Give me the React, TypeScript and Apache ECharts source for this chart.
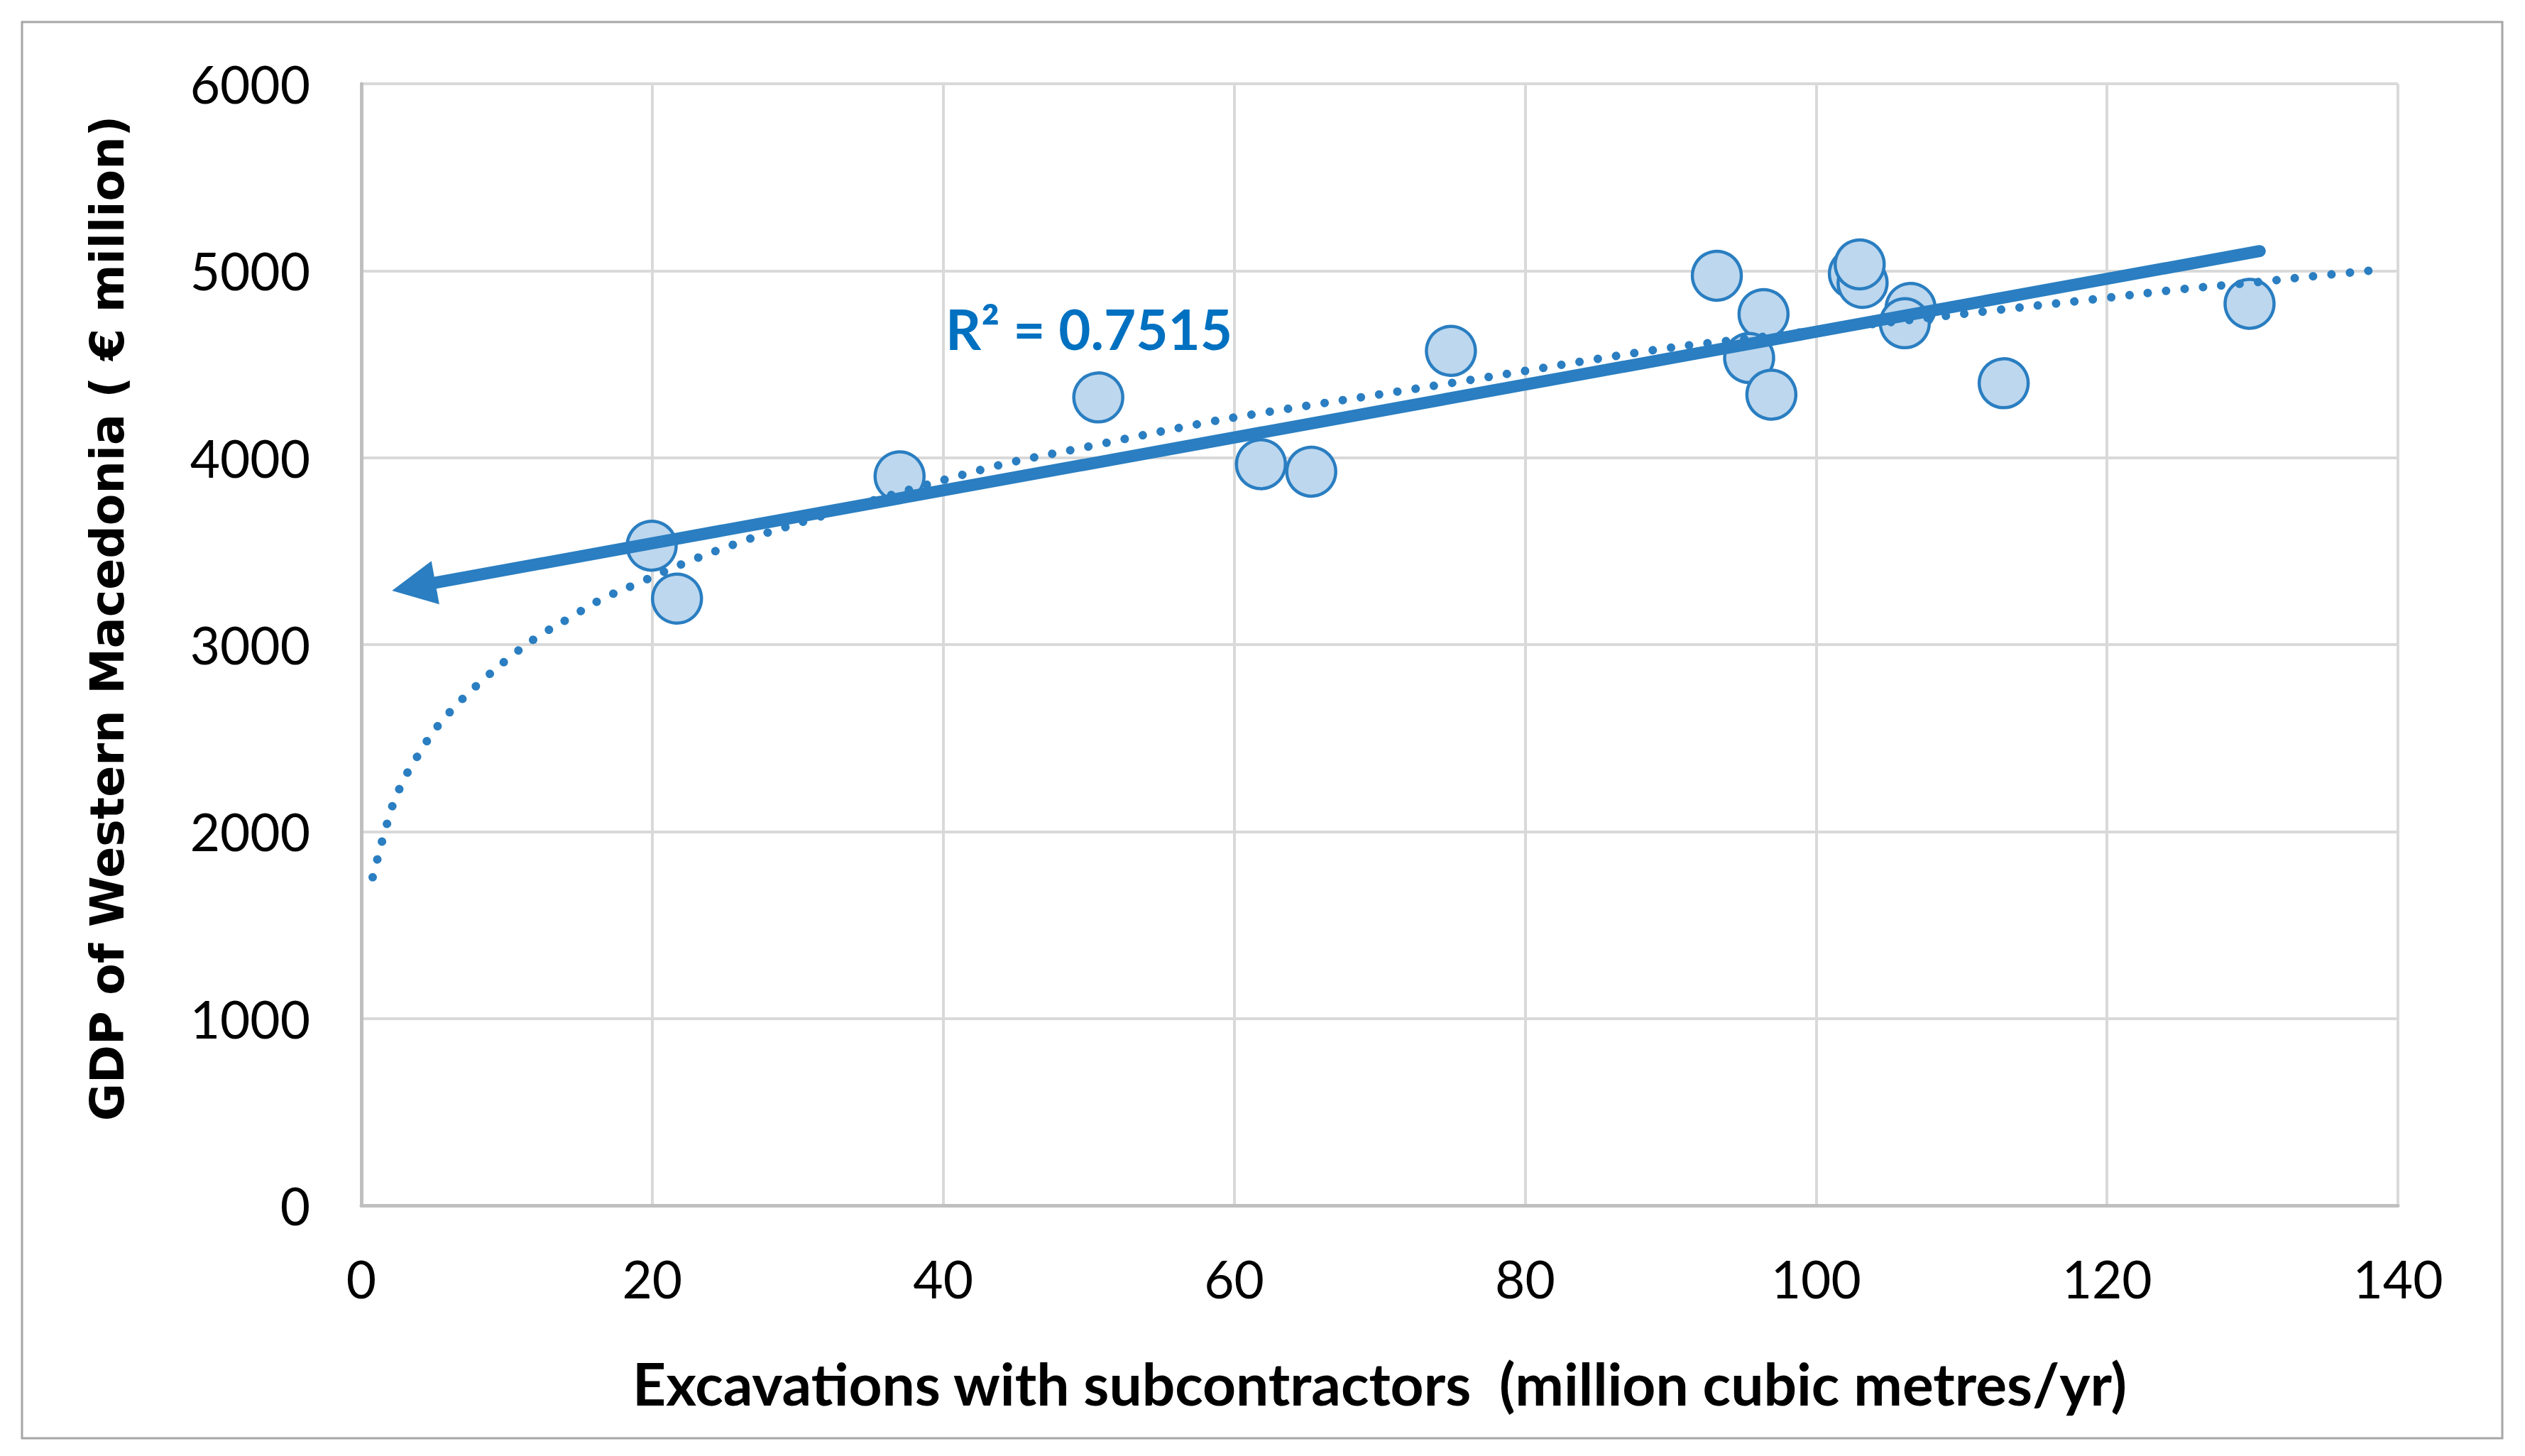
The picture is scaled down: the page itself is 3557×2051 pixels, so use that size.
import React, { useEffect, useRef } from "react";
import * as echarts from "echarts";

// Scatter data
const excavations = [19.96, 21.7, 37.0, 50.66, 61.84, 65.3, 74.9, 93.18, 96.39, 95.4, 96.93, 102.6, 103.2, 103.0, 106.5, 106.1, 112.9, 129.8];
const gdp = [3529, 3246, 3900, 4322, 3965, 3925, 4571, 4973, 4768, 4533, 4337, 4984, 4935, 5034, 4801, 4719, 4398, 4823];

// Dotted (power) trend line
const powerTrendX = [0.78, 1.1, 1.43, 1.78, 2.15, 2.65, 3.22, 3.89, 4.57, 5.34, 6.18, 7.08, 8.03, 10.0, 12.05, 14.28, 16.47, 18.84, 22.37, 25.98, 28.42, 42.65, 50.15, 57.76, 61.5, 75.0, 88.3, 93.4, 112.6, 120.1, 125.0, 130.1, 134.0, 139.1];
const powerTrendY = [1755, 1851, 1949, 2045, 2140, 2234, 2322, 2407, 2491, 2573, 2647, 2719, 2788, 2919, 3038, 3141, 3241, 3322, 3441, 3546, 3611, 3936, 4062, 4183, 4234, 4400, 4569, 4620, 4791, 4856, 4900, 4937, 4969, 5008];

// Solid (linear) trend line, ends
const linearTrendX = [3.6, 130.5];
const linearTrendY = [3310, 5105];

const rSquaredLabel = "R² = 0.7515";
const xTitle = "Excavations with subcontractors  (million cubic metres/yr)";
const yTitle = "GDP of Western Macedonia ( € million)";

const BLUE = "#2A7EC1";

export default function App() {
  const ref = useRef<HTMLDivElement>(null);

  useEffect(() => {
    const chart = echarts.init(ref.current!, null, { renderer: "svg" });
    chart.setOption({
      animation: false,
      backgroundColor: "#ffffff",
      grid: { left: 509, right: 179, top: 118, bottom: 353, containLabel: false },
      xAxis: {
        type: "value",
        min: 0,
        max: 140,
        interval: 20,
        axisLine: { show: true, onZero: false, lineStyle: { color: "#BFBFBF", width: 5 } },
        axisTick: { show: false },
        splitLine: { show: true, lineStyle: { color: "#D9D9D9", width: 4 } },
        axisLabel: {
          fontFamily: "Lato",
          fontSize: 73,
          color: "#000000",
          margin: 66,
          formatter: (v: number) => String(v),
        },
        name: xTitle,
        nameLocation: "middle",
        nameGap: 209,
        nameTextStyle: { fontFamily: "Lato", fontWeight: "bold", fontSize: 82, color: "#000000" },
      },
      yAxis: {
        type: "value",
        min: 0,
        max: 6000,
        interval: 1000,
        axisLine: { show: true, onZero: false, lineStyle: { color: "#BFBFBF", width: 5 } },
        axisTick: { show: false },
        splitLine: { show: true, lineStyle: { color: "#D9D9D9", width: 4 } },
        axisLabel: {
          fontFamily: "Lato",
          fontSize: 73,
          color: "#000000",
          margin: 72,
          formatter: (v: number) => String(v),
        },
      },
      series: [
        {
          type: "scatter",
          data: excavations.map((x, i) => [x, gdp[i]]),
          symbol: "circle",
          symbolSize: 69,
          itemStyle: { color: "#BDD7EE", borderColor: BLUE, borderWidth: 4.5, opacity: 1 },
          z: 2,
        },
        {
          type: "line",
          data: powerTrendX.map((x, i) => [x, powerTrendY[i]]),
          showSymbol: false,
          symbol: "none",
          smooth: 0.4,
          lineStyle: { color: BLUE, width: 12, type: [0.01, 26], cap: "round" },
          z: 3,
        },
        {
          type: "lines",
          coordinateSystem: "cartesian2d",
          data: [{ coords: linearTrendX.map((x, i) => [x, linearTrendY[i]]) }],
          symbol: ["triangle", "none"],
          symbolSize: 62,
          lineStyle: { color: BLUE, width: 17, cap: "round", opacity: 1, curveness: 0 },
          z: 4,
        },
      ],
      graphic: [
        {
          type: "rect",
          shape: { x: 31, y: 31, width: 3494, height: 1995 },
          style: { fill: "none", stroke: "#A6A6A6", lineWidth: 3 },
        },
        {
          type: "text",
          x: 151,
          y: 871,
          rotation: Math.PI / 2,
          style: {
            text: yTitle,
            fontFamily: "DejaVu Sans",
            fontWeight: "bold",
            fontSize: 65,
            fill: "#000000",
            align: "center",
            verticalAlign: "middle",
          },
        },
        {
          type: "text",
          x: 1332,
          y: 463,
          style: {
            text: rSquaredLabel,
            fontFamily: "Lato",
            fontWeight: "bold",
            fontSize: 78,
            fill: "#0070C0",
            align: "left",
            verticalAlign: "middle",
          },
        },
      ],
    });
    return () => chart.dispose();
  }, []);

  return (
    <div
      ref={ref}
      style={{ position: "fixed", left: 0, top: 0, width: 3557, height: 2051, background: "#ffffff" }}
    />
  );
}
